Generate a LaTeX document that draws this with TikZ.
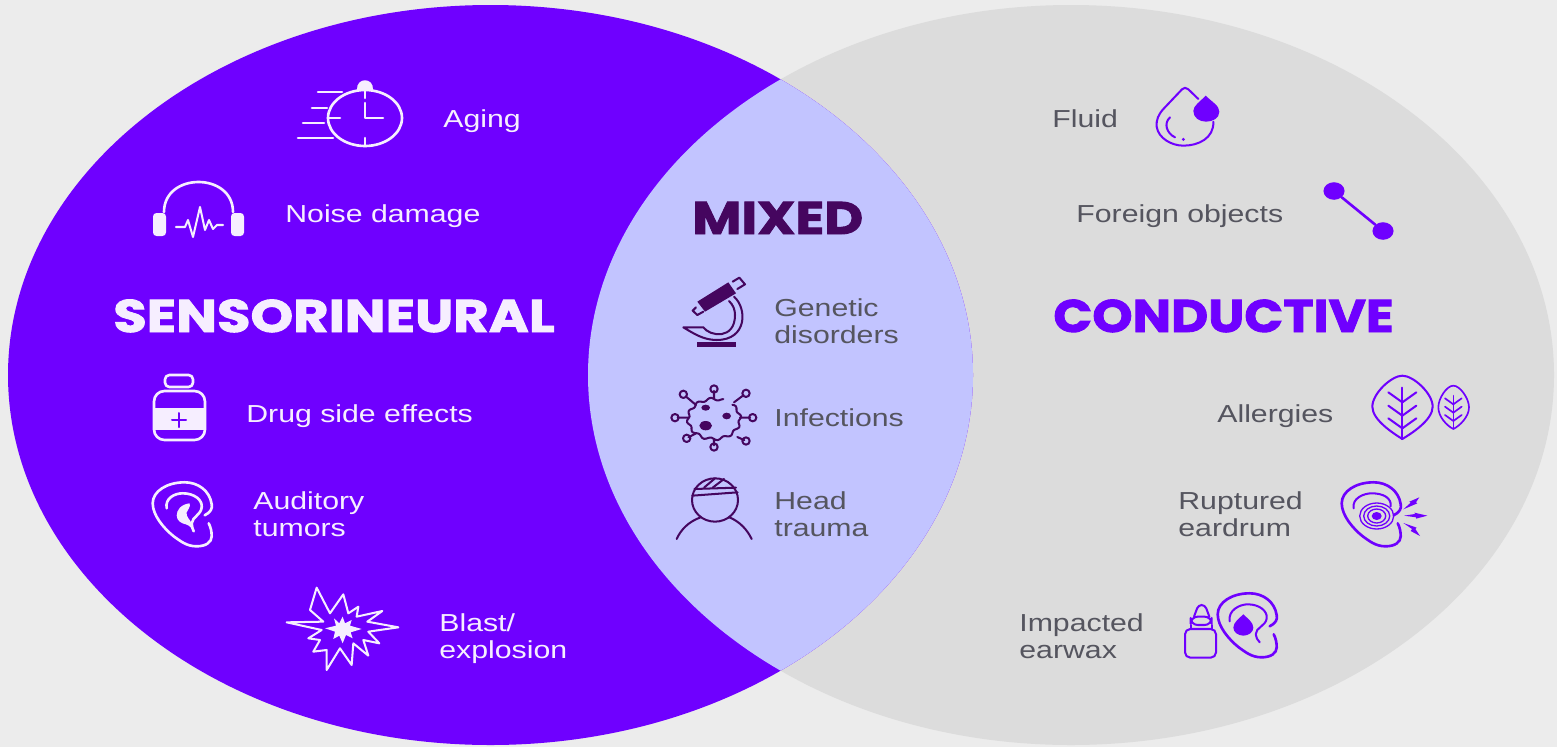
\documentclass[tikz,border=0pt]{standalone}
\usepackage{fontspec}
\usetikzlibrary{calc}
\setmainfont{Liberation Sans}[FakeStretch=1.23]
\newfontfamily\heavyA{Poppins}[FakeStretch=1.19,BoldFeatures={FakeBold=2}]
\newfontfamily\heavyB{Poppins}[FakeStretch=1.17,BoldFeatures={FakeBold=2}]
\newfontfamily\heavyC{Poppins}[FakeStretch=1.12,BoldFeatures={FakeBold=2}]
\definecolor{bgc}{HTML}{ECECEC}
\definecolor{vio}{HTML}{6F00FF}
\definecolor{rgc}{HTML}{DCDCDC}
\definecolor{lens}{HTML}{C2C4FF}
\definecolor{plum}{HTML}{45065F}
\definecolor{gtx}{HTML}{55555F}
\definecolor{wht}{HTML}{F6EEFF}
\tikzset{
 lbl/.style={anchor=base west,inner sep=0pt,align=left,font=\fontsize{14}{15.3}\selectfont},
 ttl/.style={anchor=base west,inner sep=0pt,font=\bfseries\fontsize{26}{30}\selectfont},
 ico/.style={line width=1.5pt,line cap=round,line join=round},
 thn/.style={line width=1.15pt,line cap=round,line join=round},
 dotnode/.style={ellipse,fill=vio,inner sep=0pt,minimum width=12pt,minimum height=10pt}
}
\usetikzlibrary{shapes.geometric}
\newcommand{\earpath}{(52,33) .. controls (58,30) and (60,26) .. (59,22) .. controls (57,8) and (45,0) .. (32,0) .. controls (14,0) and (0,9) .. (0,21) .. controls (0,33) and (11,46) .. (21,54) .. controls (28,59) and (34,64) .. (44,64) .. controls (53,64) and (59,60) .. (59,54) .. controls (59,49) and (58,45) .. (56,41)}
\newcommand{\earinner}{(14,26) .. controls (12,16) and (22,11) .. (30,11) .. controls (42,11) and (50,18) .. (49,25) .. controls (48,33) and (40,34) .. (39,41) .. controls (39,44) and (40,47) .. (41,49)}
\begin{document}
\begin{tikzpicture}[x=0.02cm,y=-0.02cm]
\useasboundingbox (0,0) rectangle (1557,747);
\fill[bgc] (0,0) rectangle (1557,747);
\fill[rgc] (1071,375) ellipse [x radius=483,y radius=370];
\fill[vio] (490.5,375) ellipse [x radius=482.5,y radius=370];
\begin{scope}
\clip (490.5,375) ellipse [x radius=482.5,y radius=370];
\fill[lens] (1071,375) ellipse [x radius=483,y radius=370];
\end{scope}
% titles
\node[ttl,text=wht] (tsens) at (113,332) {\heavyA\bfseries SENSORINEURAL};
\node[ttl,text=plum] (tmix) at (692,234) {\heavyB\bfseries MIXED};
\node[ttl,text=vio] (tcond) at (1053,332) {\heavyC\bfseries CONDUCTIVE};
% labels
\node[lbl,text=wht] (laging) at (443,127) {Aging};
\node[lbl,text=wht] (lnoise) at (285,222) {Noise damage};
\node[lbl,text=wht] (ldrug) at (246,422) {Drug side effects};
\node[lbl,text=wht] (laud) at (253,536) {Auditory\\tumors};
\node[lbl,text=wht] (lblast) at (439,658) {Blast/\\explosion};
\node[lbl,text=gtx] (lgen) at (774,343) {Genetic\\disorders};
\node[lbl,text=gtx] (linf) at (774,426) {Infections};
\node[lbl,text=gtx] (lhead) at (774,536) {Head\\trauma};
\node[lbl,text=gtx] (lfluid) at (1052,127) {Fluid};
\node[lbl,text=gtx] (lfor) at (1076,222) {Foreign objects};
\node[lbl,text=gtx] (lall) at (1217,422) {Allergies};
\node[lbl,text=gtx] (lrup) at (1178,536) {Ruptured\\eardrum};
\node[lbl,text=gtx] (limp) at (1019,658) {Impacted\\earwax};
% clock
\begin{scope}[ico,draw=wht]
\draw (365,118) ellipse [x radius=37,y radius=28];
\fill[wht] (357,90) .. controls (356,77) and (374,77) .. (373,90) -- cycle;
\draw (365,90) -- (365,98);
\draw (365,103) -- (365,118) -- (383,118);
\draw (365,138) -- (365,146);
\draw (328,118) -- (340,118);
\draw (318,92) -- (342,92);
\draw (312,108) -- (327,108);
\draw (303,123) -- (324,123);
\draw (298,138) -- (333,138);
\end{scope}
% headphones
\draw[ico,wht] (164,212) .. controls (164,172) and (233,172) .. (233,212);
\fill[wht,rounded corners=2pt] (153,236) rectangle (166,213);
\fill[wht,rounded corners=2pt] (231,236) rectangle (244,213);
\draw[thn,wht] (176,227) -- (185,227) -- (188,220) -- (193,237) -- (200,207) -- (205,230) -- (209,220) -- (213,229) -- (217,225) -- (223,225);
% bottle
\draw[ico,wht,rounded corners=2.5pt] (165,375) rectangle (193,387);
\fill[wht] (154,408) rectangle (205,430);
\draw[ico,wht,rounded corners=6pt] (154,391) rectangle (205,440);
\draw[thn,vio] (172,420) -- (186,420) (179,413) -- (179,427);
% auditory ear
\begin{scope}[shift={(152.7,482.3)}]
\draw[ico,wht] \earpath;
\draw[ico,wht] \earinner;
\fill[wht] (37,21) .. controls (28,22) and (24,28) .. (24,33) .. controls (24,39) and (29,41) .. (33,42) .. controls (37,43) and (39,46) .. (41,49) -- (39,41) .. controls (37,37) and (33,34) .. (34,30) .. controls (35,27) and (38,25) .. (37,21) -- cycle;
\end{scope}
% blast
\begin{scope}[shift={(130,365)},x=0.00667cm,y=-0.00667cm]
\draw[thn,wht] (560,668) -- (600,745) -- (640,688) -- (655,745) -- (685,725) -- (680,755) -- (757,738) -- (712,770) -- (805,787) -- (715,800) -- (748,835) -- (700,825) -- (715,872) -- (670,835) -- (665,900) -- (630,850) -- (590,915) -- (590,855) -- (550,860) -- (570,825) -- (535,820) -- (575,795) -- (470,772) -- (580,770) -- (540,735) -- cycle;
\fill[wht] (585,790) -- (618,782) -- (612,760) -- (628,775) -- (638,755) -- (645,775) -- (665,765) -- (660,782) -- (695,792) -- (662,802) -- (668,820) -- (648,810) -- (638,835) -- (628,812) -- (610,822) -- (615,800) -- cycle;
\end{scope}
% microscope
\begin{scope}[shift={(660,265)},x=0.00667cm,y=-0.00667cm]
\fill[plum] (112,110) -- (205,52) -- (228,85) -- (135,140) -- cycle;
\draw[thn,plum] (218,50) -- (238,38) -- (255,58) -- (232,72);
\draw[thn,plum] (108,127) -- (98,137) -- (112,150) -- (130,140);
\draw[thn,plum] (222,95) .. controls (262,130) and (262,225) .. (170,225) .. controls (130,225) and (100,205) .. (70,187) -- (130,187) .. controls (150,215) and (225,225) .. (225,150) .. controls (225,135) and (220,120) .. (207,108);
\fill[plum] (112,232) rectangle (228,247);
\end{scope}
% virus
\begin{scope}[shift={(660,265)},x=0.00667cm,y=-0.00667cm]
\draw[thn,plum] plot[smooth,domain=70:405,samples=80] ({162+(78+4*sin(12*\x))*cos(\x)},{462-(60+4*sin(12*\x))*sin(\x)});
\foreach \ex/\ey/\sx/\sy in {70/388/108/420, 162/372/162/400, 258/385/222/412, 278/458/240/458, 258/528/232/516, 162/546/162/522, 80/520/108/505, 45/458/84/458}{
 \draw[thn,plum] (\ex,\ey) circle [radius=11];
 \draw[thn,plum] (\sx,\sy) -- ($(\sx,\sy)!0.8!(\ex,\ey)$);
}
\fill[plum] (137,428) ellipse [x radius=13,y radius=9];
\fill[plum] (200,453) ellipse [x radius=13,y radius=10];
\fill[plum] (137,482) ellipse [x radius=19,y radius=14];
\end{scope}
% head
\begin{scope}[shift={(660,265)},x=0.00667cm,y=-0.00667cm]
\draw[thn,plum] (165,705) ellipse [x radius=69,y radius=65];
\draw[thn,plum] (103,672) -- (228,668) (97,692) -- (233,682);
\draw[thn,plum] (132,668) -- (165,640) (158,668) -- (192,642);
\draw[thn,plum] (50,822) .. controls (62,795) and (85,770) .. (122,757);
\draw[thn,plum] (208,757) .. controls (240,770) and (262,795) .. (275,822);
\end{scope}
% fluid
\begin{scope}[shift={(1140,75)},x=0.00667cm,y=-0.00667cm]
\draw[thn,vio] (175,72) -- (145,43) .. controls (138,37) and (132,37) .. (126,43) -- (72,100) .. controls (55,118) and (48,135) .. (50,155) .. controls (55,190) and (95,212) .. (130,212) .. controls (175,212) and (222,190) .. (220,140);
\draw[thn,vio] (90,127) .. controls (70,145) and (80,175) .. (105,187);
\fill[vio] (130,193) circle [radius=5];
\fill[vio] (197,62) .. controls (215,80) and (238,92) .. (238,110) .. controls (238,130) and (218,140) .. (198,140) .. controls (178,140) and (160,128) .. (160,108) .. controls (160,92) and (180,80) .. (197,62) -- cycle;
\end{scope}
% foreign objects
\node[dotnode] (fa) at (1334,191) {};
\node[dotnode] (fb) at (1383,231) {};
\draw[ico,vio] (fa) -- (fb);
% leaves
\begin{scope}[shift={(1170,365)},x=0.00667cm,y=-0.00667cm]
\draw[thn,vio] (697,32) .. controls (730,32) and (788,85) .. (788,125) .. controls (788,165) and (725,205) .. (697,222) .. controls (670,205) and (607,165) .. (607,125) .. controls (607,85) and (665,32) .. (697,32) -- cycle;
\draw[thn,vio] (697,68) -- (697,222);
\foreach \y in {82,122,160}{\draw[thn,vio] (655,\y) -- (697,\y+30) -- (739,\y);}
\draw[thn,vio,line width=0.95pt] (850,62) .. controls (870,62) and (897,100) .. (897,127) .. controls (897,155) and (870,182) .. (850,192) .. controls (830,182) and (805,155) .. (805,127) .. controls (805,100) and (830,62) .. (850,62) -- cycle;
\draw[thn,vio,line width=0.95pt] (850,92) -- (850,192);
\foreach \y in {100,125,150}{\draw[thn,vio,line width=0.95pt] (825,\y) -- (850,\y+18) -- (875,\y);}
\end{scope}
% ruptured ear
\begin{scope}[shift={(1341.7,482.3)}]
\draw[ico,vio] \earpath;
\draw[thn,vio] (12,26) .. controls (10,16) and (22,11) .. (30,11) .. controls (42,11) and (50,16) .. (49,24);
\end{scope}
\begin{scope}[shift={(1376.7,516)}]
\draw[vio,line width=0.75pt] (0,0) ellipse [x radius=17,y radius=13];
\draw[vio,line width=0.75pt] (0,0) ellipse [x radius=13,y radius=10];
\draw[vio,line width=0.75pt] (0,0) ellipse [x radius=9,y radius=7];
\fill[vio] (0,0) ellipse [x radius=5,y radius=4];
\end{scope}
\begin{scope}[shift={(1170,365)},x=0.00667cm,y=-0.00667cm]
\fill[vio] (700,433) -- (722,413) -- (718,410) -- (748,397) -- (738,412) -- (742,415) -- cycle;
\fill[vio] (702,452) -- (735,447) -- (733,443) -- (772,452) -- (738,461) -- (738,457) -- cycle;
\fill[vio] (700,474) -- (740,488) -- (736,492) -- (750,513) -- (722,498) -- (726,492) -- cycle;
\end{scope}
% impacted earwax
\begin{scope}[shift={(1170,365)},x=0.00667cm,y=-0.00667cm]
\draw[thn,vio,rounded corners=3pt] (45,792) rectangle (138,878);
\draw[thn,vio,rounded corners=4pt] (62,755) rectangle (125,780);
\draw[thn,vio] (62,780) -- (62,792) (125,780) -- (125,792);
\draw[thn,vio,rounded corners=2pt] (72,755) -- (85,720) -- (105,720) -- (118,755);
\fill[vio] (220,748) .. controls (232,760) and (250,772) .. (250,788) .. controls (250,802) and (235,812) .. (220,812) .. controls (205,812) and (190,802) .. (190,788) .. controls (190,772) and (208,760) .. (220,748) -- cycle;
\end{scope}
\begin{scope}[shift={(1217.7,593.3)}]
\draw[ico,vio] \earpath;
\draw[thn,vio] (12,28) .. controls (10,17) and (22,11) .. (30,11) .. controls (42,11) and (50,18) .. (49,25) .. controls (48,33) and (38,34) .. (38,41) .. controls (38,44) and (40,47) .. (42,49);
\end{scope}
\end{tikzpicture}
\end{document}
